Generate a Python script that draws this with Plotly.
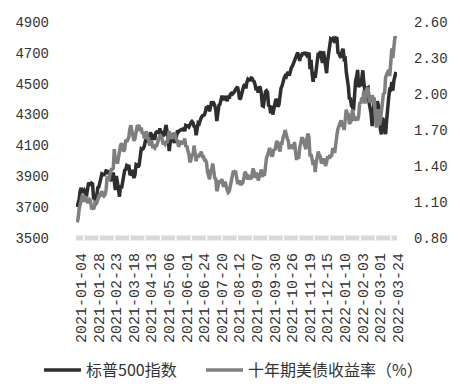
import pandas as pd
import plotly.graph_objects as go

# Trading calendar (US market + bond-market closures)
holidays = ["2021-01-18", "2021-02-15", "2021-04-02", "2021-05-31", "2021-07-05",
            "2021-09-06", "2021-10-11", "2021-11-11", "2021-11-25", "2021-12-24",
            "2022-01-17", "2022-02-21"]
dates = pd.bdate_range("2021-01-04", "2022-03-28", freq="C", holidays=holidays)
date_labels = [d.strftime("%Y-%m-%d") for d in dates]

sp500 = [
    # 2021-01
    3701, 3727, 3748, 3804, 3825, 3800, 3801, 3810, 3796, 3768, 3799, 3852, 3853, 3841, 3855, 3850, 3751, 3787, 3714,
    # 2021-02
    3774, 3826, 3830, 3872, 3887, 3916, 3911, 3910, 3916, 3935, 3933, 3931, 3914, 3907, 3877, 3881, 3925, 3829, 3811,
    # 2021-03
    3902, 3870, 3820, 3768, 3842, 3821, 3875, 3899, 3939, 3943, 3969, 3963, 3974, 3915, 3913, 3941, 3911, 3889, 3910, 3975, 3971, 3959, 3973,
    # 2021-04
    4020, 4078, 4074, 4080, 4097, 4129, 4128, 4142, 4125, 4170, 4185, 4163, 4135, 4173, 4135, 4180, 4188, 4187, 4183, 4211, 4181,
    # 2021-05
    4193, 4165, 4168, 4202, 4233, 4188, 4152, 4063, 4113, 4174, 4163, 4128, 4116, 4159, 4156, 4197, 4188, 4196, 4201, 4204,
    # 2021-06
    4202, 4208, 4193, 4230, 4227, 4227, 4220, 4239, 4247, 4255, 4247, 4224, 4222, 4166, 4225, 4246, 4242, 4266, 4281, 4291, 4292, 4298,
    # 2021-07
    4320, 4352, 4344, 4358, 4321, 4370, 4385, 4369, 4374, 4360, 4327, 4258, 4323, 4359, 4367, 4412, 4422, 4401, 4401, 4419, 4395,
    # 2021-08
    4387, 4423, 4403, 4429, 4437, 4432, 4437, 4448, 4461, 4468, 4480, 4448, 4400, 4406, 4442, 4480, 4486, 4496, 4470, 4509, 4529, 4523,
    # 2021-09
    4524, 4537, 4535, 4520, 4514, 4493, 4459, 4469, 4443, 4481, 4474, 4433, 4358, 4354, 4396, 4449, 4455, 4443, 4353, 4359, 4308,
    # 2021-10
    4357, 4300, 4346, 4364, 4400, 4391, 4351, 4364, 4438, 4471, 4486, 4520, 4536, 4550, 4545, 4566, 4575, 4552, 4596, 4605,
    # 2021-11
    4614, 4631, 4661, 4680, 4698, 4702, 4685, 4647, 4683, 4683, 4701, 4689, 4705, 4698, 4683, 4691, 4701, 4595, 4655, 4567,
    # 2021-12
    4513, 4577, 4538, 4592, 4687, 4701, 4667, 4712, 4669, 4634, 4710, 4669, 4621, 4568, 4649, 4697, 4726, 4791, 4786, 4793, 4779, 4766,
    # 2022-01
    4797, 4794, 4701, 4696, 4677, 4670, 4713, 4726, 4659, 4663, 4577, 4533, 4483, 4398, 4410, 4356, 4350, 4327, 4432, 4516,
    # 2022-02
    4547, 4589, 4477, 4501, 4484, 4522, 4587, 4504, 4419, 4402, 4471, 4475, 4380, 4349, 4305, 4226, 4289, 4385, 4374,
    # 2022-03
    4306, 4387, 4363, 4329, 4201, 4171, 4278, 4260, 4204, 4173, 4262, 4358, 4412, 4463, 4461, 4512, 4456, 4520, 4543, 4576,
]

ust10y = [
    # 2021-01
    0.93, 0.96, 1.04, 1.08, 1.13, 1.15, 1.15, 1.10, 1.15, 1.11, 1.10, 1.10, 1.12, 1.11, 1.05, 1.05, 1.04, 1.07, 1.11,
    # 2021-02
    1.09, 1.12, 1.15, 1.15, 1.17, 1.19, 1.16, 1.15, 1.16, 1.20, 1.30, 1.29, 1.29, 1.34, 1.37, 1.37, 1.38, 1.54, 1.44,
    # 2021-03
    1.45, 1.42, 1.47, 1.54, 1.57, 1.59, 1.54, 1.52, 1.54, 1.62, 1.60, 1.62, 1.64, 1.71, 1.74, 1.69, 1.64, 1.61, 1.63, 1.67, 1.73, 1.73, 1.74,
    # 2021-04
    1.69, 1.72, 1.67, 1.68, 1.63, 1.67, 1.69, 1.62, 1.64, 1.57, 1.59, 1.61, 1.56, 1.56, 1.55, 1.57, 1.57, 1.62, 1.63, 1.65, 1.65,
    # 2021-05
    1.63, 1.59, 1.59, 1.58, 1.60, 1.60, 1.63, 1.69, 1.66, 1.63, 1.64, 1.64, 1.68, 1.63, 1.62, 1.61, 1.56, 1.58, 1.61, 1.58,
    # 2021-06
    1.61, 1.59, 1.63, 1.56, 1.57, 1.53, 1.50, 1.43, 1.45, 1.50, 1.49, 1.57, 1.51, 1.44, 1.49, 1.47, 1.50, 1.49, 1.52, 1.48, 1.48, 1.45,
    # 2021-07
    1.45, 1.43, 1.35, 1.32, 1.29, 1.36, 1.37, 1.42, 1.35, 1.30, 1.29, 1.19, 1.22, 1.28, 1.26, 1.28, 1.29, 1.24, 1.23, 1.27, 1.22,
    # 2021-08
    1.20, 1.18, 1.19, 1.23, 1.30, 1.32, 1.36, 1.35, 1.36, 1.28, 1.26, 1.26, 1.28, 1.24, 1.26, 1.26, 1.29, 1.35, 1.34, 1.31, 1.29, 1.31,
    # 2021-09
    1.30, 1.29, 1.33, 1.38, 1.35, 1.30, 1.34, 1.33, 1.28, 1.31, 1.34, 1.37, 1.31, 1.33, 1.32, 1.41, 1.47, 1.49, 1.54, 1.55, 1.52,
    # 2021-10
    1.48, 1.49, 1.54, 1.53, 1.57, 1.61, 1.58, 1.55, 1.52, 1.59, 1.59, 1.64, 1.66, 1.70, 1.65, 1.63, 1.61, 1.54, 1.58, 1.55,
    # 2021-11
    1.58, 1.54, 1.60, 1.53, 1.45, 1.49, 1.46, 1.55, 1.58, 1.63, 1.63, 1.60, 1.59, 1.54, 1.63, 1.67, 1.64, 1.48, 1.50, 1.43,
    # 2021-12
    1.41, 1.45, 1.35, 1.43, 1.48, 1.52, 1.49, 1.48, 1.42, 1.44, 1.46, 1.44, 1.40, 1.43, 1.48, 1.46, 1.49, 1.48, 1.49, 1.55, 1.52, 1.52,
    # 2022-01
    1.63, 1.66, 1.71, 1.73, 1.76, 1.78, 1.74, 1.74, 1.70, 1.78, 1.87, 1.83, 1.83, 1.75, 1.77, 1.78, 1.87, 1.80, 1.78, 1.79,
    # 2022-02
    1.81, 1.78, 1.82, 1.93, 1.92, 1.97, 1.94, 2.03, 1.92, 1.99, 2.05, 2.04, 1.97, 1.93, 1.94, 1.99, 1.96, 1.97, 1.83,
    # 2022-03
    1.72, 1.86, 1.86, 1.74, 1.78, 1.86, 1.95, 2.01, 2.00, 2.14, 2.16, 2.19, 2.20, 2.15, 2.32, 2.38, 2.30, 2.37, 2.48, 2.46,
]

tick_labels = ["2021-01-04", "2021-01-28", "2021-02-23", "2021-03-18", "2021-04-13",
               "2021-05-06", "2021-06-01", "2021-06-24", "2021-07-20", "2021-08-12",
               "2021-09-07", "2021-09-30", "2021-10-26", "2021-11-19", "2021-12-15",
               "2022-01-10", "2022-02-03", "2022-03-01", "2022-03-24"]

name_sp = "标普500指数"
name_ust = "十年期美债收益率（%）"

num_font = "Liberation Mono"
cjk_font = "Noto Sans CJK SC"
txt_color = "#333333"

# page body has an 8px default margin: figure is drawn 8px in from the top-left
W, H = 452, 382

fig = go.Figure()
fig.add_trace(go.Scatter(x=date_labels, y=sp500, name=name_sp, mode="lines",
                         line=dict(color="#2e2e2e", width=3.5), yaxis="y", legend="legend"))
fig.add_trace(go.Scatter(x=date_labels, y=ust10y, name=name_ust, mode="lines",
                         line=dict(color="#7f7f7f", width=3.5), yaxis="y2", legend="legend2"))

# light grey axis band with white separators
shapes = [dict(type="rect", xref="paper", yref="paper", x0=0, x1=1, y0=-0.011, y1=0.012,
               fillcolor="#d9d9d9", line=dict(width=0), layer="below")]
plot_w = 331
for k in range(21):
    px = 8 + 15.83 * k
    shapes.append(dict(type="line", xref="paper", yref="paper", x0=px / plot_w, x1=px / plot_w,
                       y0=-0.011, y1=0.012, line=dict(color="white", width=1.5), layer="below"))

legend_common = dict(orientation="h", xref="container", yref="container", xanchor="left",
                     yanchor="middle", font=dict(family=cjk_font, size=16, color=txt_color),
                     itemwidth=37, bgcolor="rgba(0,0,0,0)")

fig.update_layout(
    width=W, height=H,
    margin=dict(l=58, r=63, t=7, b=152),
    paper_bgcolor="white", plot_bgcolor="white",
    showlegend=True,
    legend=dict(legend_common, x=31 / W, y=20 / H),
    legend2=dict(legend_common, x=193 / W, y=20 / H),
    xaxis=dict(type="category", range=[-1, 309], tickmode="array", tickvals=tick_labels,
               ticktext=tick_labels, tickangle=-90, showgrid=False, showline=False, zeroline=False,
               ticks="", tickfont=dict(family=num_font, size=15, color=txt_color),
               ticklabelstandoff=11, ticklabelshift=4),
    yaxis=dict(range=[3500, 4900], dtick=200, tick0=3500, showgrid=False, zeroline=False,
               showline=False, ticks="", tickfont=dict(family=num_font, size=14, color=txt_color),
               ticklabelstandoff=26, ticklabeloverflow="allow"),
    yaxis2=dict(range=[0.8, 2.6], dtick=0.3, tick0=0.8, tickformat=".2f", overlaying="y",
                side="right", showgrid=False, zeroline=False, showline=False, ticks="",
                tickfont=dict(family=num_font, size=14, color=txt_color), ticklabelstandoff=16,
                ticklabeloverflow="allow"),
    shapes=shapes,
)

fig.write_html("out.html")
